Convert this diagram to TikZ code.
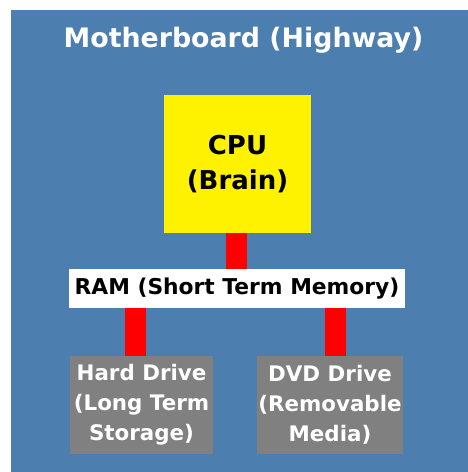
\documentclass[tikz,border=0pt]{standalone}
\usepackage{fontspec}
\setmainfont{DejaVu Sans}
\definecolor{board}{RGB}{76,126,176}
\definecolor{part}{RGB}{128,128,128}
\begin{document}
\begin{tikzpicture}[x=1pt,y=1pt]
	\tikzstyle{every node}+=[inner sep=0pt, font=\bfseries]
	\tikzstyle{bus}=[draw=red, line width=21pt]
	\tikzstyle{drive}=[align=center, fill=part, text=white, minimum width=145pt, minimum height=98pt, font=\bfseries\fontsize{21.4}{30}\selectfont]
	\useasboundingbox (0,0) rectangle (468,-472);
	\fill [board] (11,-10) rectangle (468,-472);
	\node [anchor=base, text=white, font=\bfseries\fontsize{26.8}{32}\selectfont] (title) at (243.5,-47) {Motherboard (Highway)};
	\node [align=center, fill=yellow, minimum width=147pt, minimum height=138pt, font=\bfseries\fontsize{26}{35}\selectfont] (cpu) at (237.5,-164) {CPU\\(Brain)};
	\node [fill=white, minimum width=336pt, minimum height=39pt, font=\bfseries\fontsize{21.8}{26}\selectfont] (ram) at (237,-288.5) {RAM (Short Term Memory)};
	\node [drive, minimum width=143pt] (hdd) at (141.5,-405) {Hard Drive\\(Long Term\\Storage)};
	\node [drive, minimum width=146pt] (dvd) at (330,-405) {DVD Drive\\(Removable\\Media)};
	\draw [bus] ([xshift=-1pt]cpu.south) -- ([xshift=-1pt]cpu.south |- ram.north);
	\draw [bus] ([xshift=-6pt]hdd.north) -- ([xshift=-6pt]hdd.north |- ram.south);
	\draw [bus] ([xshift=5pt]dvd.north) -- ([xshift=5pt]dvd.north |- ram.south);
\end{tikzpicture}
\end{document}
